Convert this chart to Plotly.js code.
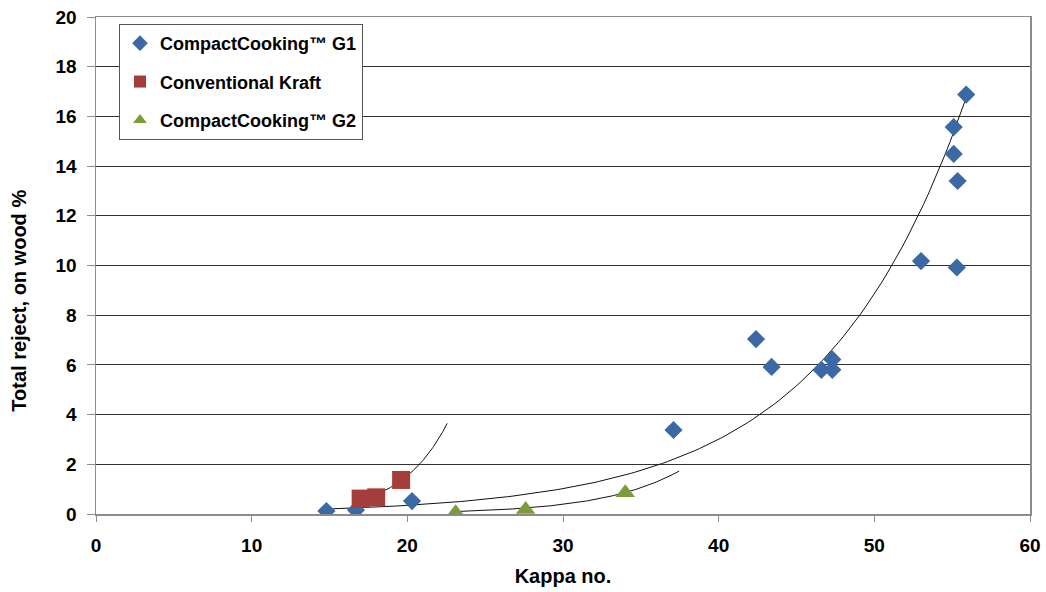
<!DOCTYPE html>
<html>
<head>
<meta charset="utf-8">
<script src="https://cdn.plot.ly/plotly-3.0.1.min.js"></script>
<style>html,body{margin:0;padding:0;background:#fff;}#chart{width:1046px;height:592px;}</style>
</head>
<body>
<div id="chart"></div>
<script>
// Data
const g1Kappa  = [14.8, 16.7, 20.3, 37.1, 42.4, 43.4, 46.6, 47.3, 47.3, 53.0, 55.1, 55.1, 55.35, 55.3, 55.9];
const g1Reject = [0.12, 0.16, 0.52, 3.38, 7.04, 5.92, 5.80, 5.80, 6.22, 10.18, 15.57, 14.49, 13.4, 9.92, 16.88];

const kraftKappa  = [17.0, 18.0, 19.6];
const kraftReject = [0.62, 0.67, 1.37];

const g2Kappa  = [23.1, 27.6, 34.0];
const g2Reject = [0.05, 0.18, 0.86];

const seriesNames = ["CompactCooking\u2122 G1", "Conventional Kraft", "CompactCooking\u2122 G2"];

// Exponential trend lines y = a*exp(b*x) (as drawn in the reference)
const g1Trend    = {a: 0.04,     b: 0.108, x0: 14.8,  x1: 55.9};
const kraftTrend = {a: 0.00182,  b: 0.337, x0: 17.0,  x1: 22.56};
const g2Trend    = {a: 0.000962, b: 0.2,   x0: 23.06, x1: 37.46};

const xTicks = [0, 10, 20, 30, 40, 50, 60];
const yTicks = [0, 2, 4, 6, 8, 10, 12, 14, 16, 18, 20];

const xTitle = 'Kappa no.';
const yTitle = 'Total reject, on wood %';

function trendTrace(t) {
  const xs = [], ys = [];
  const n = 120;
  for (let i = 0; i <= n; i++) {
    const x = t.x0 + (t.x1 - t.x0) * i / n;
    xs.push(x);
    ys.push(t.a * Math.exp(t.b * x));
  }
  return {x: xs, y: ys, mode: 'lines', type: 'scatter', showlegend: false,
          hoverinfo: 'skip', line: {color: '#111', width: 1}};
}

const FONT = '"Liberation Sans", Arial, sans-serif';

const traces = [
  trendTrace(g1Trend),
  trendTrace(kraftTrend),
  trendTrace(g2Trend),
  {x: g1Kappa, y: g1Reject, name: seriesNames[0], legendgroup: 'a', type: 'scatter', mode: 'markers',
   marker: {symbol: 'diamond', size: 14, color: '#3B69A6'}},
  {x: kraftKappa, y: kraftReject, name: seriesNames[1], legendgroup: 'b', type: 'scatter', mode: 'markers',
   marker: {symbol: 'square', size: 18, color: '#A53E3A'}},
  {x: g2Kappa, y: g2Reject, name: seriesNames[2], legendgroup: 'c', type: 'scatter', mode: 'markers',
   marker: {symbol: 'triangle-up', size: 17, color: '#7C9C3C'}}
];

const layout = {
  width: 1046, height: 592,
  margin: {l: 96, r: 16, t: 17, b: 78, pad: 0},
  paper_bgcolor: '#fff', plot_bgcolor: '#fff',
  font: {family: FONT, color: '#000'},
  xaxis: {
    range: [0, 60], tickvals: xTicks, ticktext: xTicks.map(String),
    showgrid: false, zeroline: false,
    showline: true, linecolor: '#8c8c8c', linewidth: 1.5, mirror: true,
    ticks: 'outside', ticklen: 6, tickcolor: '#8c8c8c', tickwidth: 1,
    ticklabelstandoff: 8,
    tickfont: {family: FONT, size: 19, color: '#000', weight: 'bold'},
    title: {text: xTitle, standoff: 13, font: {family: FONT, size: 20, color: '#000', weight: 'bold'}}
  },
  yaxis: {
    range: [0, 20], tickvals: yTicks, ticktext: yTicks.map(String),
    showgrid: true, gridcolor: '#333', gridwidth: 1, zeroline: false,
    showline: true, linecolor: '#8c8c8c', linewidth: 1.5, mirror: true,
    ticks: 'outside', ticklen: 8, tickcolor: '#8c8c8c', tickwidth: 1,
    ticklabelstandoff: 6,
    tickfont: {family: FONT, size: 19, color: '#000', weight: 'bold'},
    title: {text: ''}
  },
  annotations: [{
    text: yTitle, textangle: -90, showarrow: false,
    xref: 'paper', yref: 'paper', x: -0.082, y: 0.43, xanchor: 'center', yanchor: 'middle',
    font: {family: FONT, size: 20, color: '#000', weight: 'bold'}
  }],
  showlegend: true,
  legend: {
    x: 0.0246, y: 0.986, xanchor: 'left', yanchor: 'top',
    bgcolor: '#fff', bordercolor: '#555', borderwidth: 1,
    font: {family: FONT, size: 18, color: '#000', weight: 'bold'},
    itemsizing: 'constant', tracegroupgap: 12, itemwidth: 30
  }
};

Plotly.newPlot('chart', traces, layout, {staticPlot: true, displayModeBar: false});
</script>
</body>
</html>
